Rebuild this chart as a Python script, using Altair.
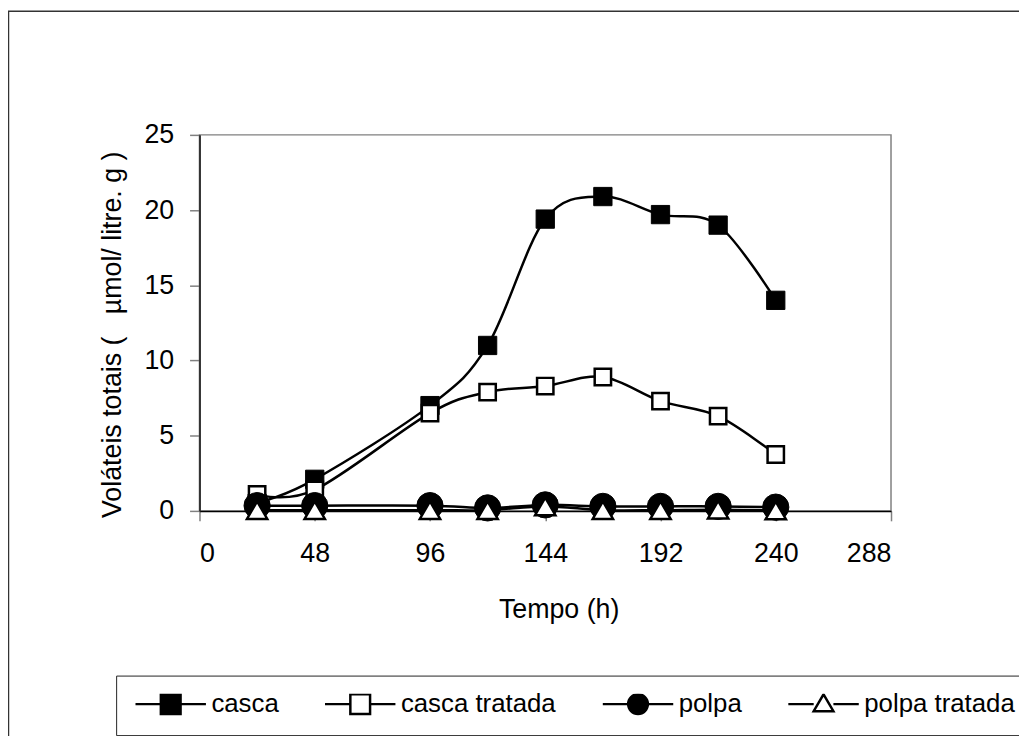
import altair as alt
import pandas as pd

# ---- data ----
hours = [24, 48, 96, 120, 144, 168, 192, 216, 240]
casca = [0.5, 2.1, 7.0, 11.0, 19.4, 20.9, 19.7, 19.0, 14.0]
casca_tratada = [1.1, 1.4, 6.5, 7.9, 8.3, 8.9, 7.3, 6.3, 3.75]
polpa = [0.35, 0.35, 0.35, 0.2, 0.4, 0.3, 0.3, 0.3, 0.25]
polpa_tratada = [0.05, 0.05, 0.05, 0.05, 0.3, 0.05, 0.05, 0.08, 0.03]

series_names = ["casca", "casca tratada", "polpa", "polpa tratada"]
series_values = [casca, casca_tratada, polpa, polpa_tratada]
x_ticks = [0, 48, 96, 144, 192, 240, 288]
y_ticks = [0, 5, 10, 15, 20, 25]

rows = []
for name, vals in zip(series_names, series_values):
    for h, v in zip(hours, vals):
        rows.append({"serie": name, "tempo": h, "valor": v})
df = pd.DataFrame(rows)

FONT = "Liberation Sans"
FS = 27
LFS = 26
NB = "\u00a0"

x_enc = alt.X(
    "tempo:Q",
    scale=alt.Scale(domain=[0, 288], nice=False, zero=False),
    axis=alt.Axis(
        values=x_ticks, title="Tempo (h)", grid=False,
        domainColor="black", domainWidth=1.5,
        tickColor="#808080", tickWidth=1.5, tickSize=10,
        labelFont=FONT, labelFontSize=FS, labelColor="black",
        labelBaseline="alphabetic", labelPadding=41,
        titleFont=FONT, titleFontSize=FS, titleFontWeight="normal", titleColor="black",
        titleX=362, titleY=107, titleBaseline="alphabetic", titleAlign="center",
    ),
)
y_enc = alt.Y(
    "valor:Q",
    scale=alt.Scale(domain=[0, 25], nice=False),
    axis=alt.Axis(
        values=y_ticks, title=f"Voláteis totais ({NB}{NB}{NB}µmol/ litre. g )", grid=False,
        domainColor="#333333", domainWidth=2,
        tickColor="#808080", tickWidth=1.5, tickSize=10,
        labelFont=FONT, labelFontSize=FS, labelColor="black", labelPadding=16,
        titleFont=FONT, titleFontSize=FS, titleFontWeight="normal", titleColor="black",
        titleAngle=270, titleX=-80, titleY=201, titleBaseline="alphabetic", titleAlign="center",
    ),
)

base = alt.Chart(df)

lines = base.mark_line(interpolate="cardinal", color="black", strokeWidth=2.5).encode(
    x=x_enc, y=y_enc, detail="serie:N"
)

def pts(name, **kw):
    return base.transform_filter(alt.datum.serie == name).mark_point(opacity=1, **kw).encode(
        x=x_enc, y=y_enc
    )

p_casca = pts("casca", shape="square", filled=True, fill="black", stroke="black", strokeWidth=1, size=340)
p_casca_t = pts("casca tratada", shape="square", filled=True, fill="white", stroke="black", strokeWidth=2.5, size=272)
p_polpa = pts("polpa", shape="circle", filled=True, fill="black", stroke="black", strokeWidth=1, size=700)
p_polpa_t = pts("polpa tratada", shape="triangle-up", filled=True, fill="white", stroke="black", strokeWidth=2.5, size=420)

# legend symbols: line segment with marker
s = 0.28
legend_paths = [
    f"M-1,0H-{s}M{s},0H1M-{s},-{s}H{s}V{s}H-{s}Z",
    f"M-1,0H-{s}M{s},0H1M-{s},-{s}H{s}V{s}H-{s}Z",
    f"M-1,0H-{s}M{s},0H1M-{s},0A{s},{s} 0 1,0 {s},0A{s},{s} 0 1,0 -{s},0Z",
    f"M-1,0H-{s}M{s},0H1M0,-{s}L{s},0.2L-{s},0.2Z",
]
legend_fills = ["black", "white", "black", "white"]
legend_strokes = ["black", "black", "black", "black"]

leg = alt.Legend(
    title=None, orient="none", legendX=-84, legendY=545, direction="horizontal",
    labelFont=FONT, labelFontSize=LFS, labelColor="black", labelLimit=500, labelOffset=4,
    symbolSize=5041, symbolStrokeWidth=2.5, symbolOffset=0,
    strokeColor="#222222", padding=18, clipHeight=21, columnPadding=45,
)

legend_layer = base.transform_filter("false").mark_point(
    filled=True, strokeWidth=2.5, opacity=1
).encode(
    shape=alt.Shape("serie:N", scale=alt.Scale(domain=series_names, range=legend_paths), legend=leg),
    fill=alt.Fill("serie:N", scale=alt.Scale(domain=series_names, range=legend_fills), legend=leg),
    stroke=alt.Stroke("serie:N", scale=alt.Scale(domain=series_names, range=legend_strokes), legend=leg),
)

border = alt.Chart(pd.DataFrame({"k": [0]})).mark_rect(
    fillOpacity=0, stroke="#333333", strokeWidth=1.5
).encode(
    x=alt.value(-192.5), y=alt.value(-124.5), x2=alt.value(1300), y2=alt.value(1300)
)

chart = alt.layer(border, lines, p_casca, p_casca_t, p_polpa, p_polpa_t, legend_layer).properties(
    width=697, height=379,
    autosize=alt.AutoSizeParams(type="none"),
    padding={"left": 193, "top": 125, "right": 129, "bottom": 224},
    background="white",
).configure_view(stroke="#808080", strokeWidth=1.5)

chart.save("out.html", embed_options={"renderer": "svg", "actions": False})
